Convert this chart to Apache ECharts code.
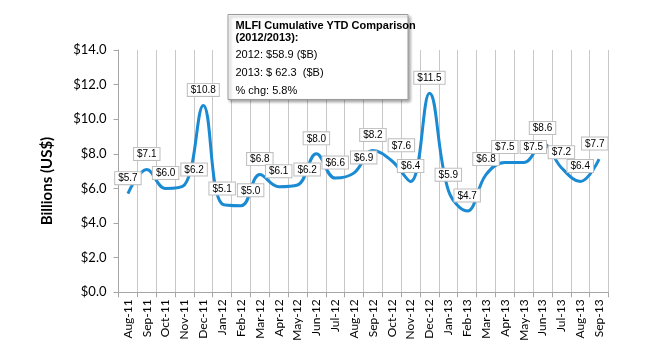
<!DOCTYPE html>
<html>
<head>
<meta charset="utf-8">
<script src="https://cdn.jsdelivr.net/npm/echarts@6/dist/echarts.min.js"></script>
<style>
html,body{margin:0;padding:0;background:#fff;}
#chart{width:650px;height:350px;}
</style>
</head>
<body>
<div id="chart"></div>
<script>
var categories = ['Aug-11','Sep-11','Oct-11','Nov-11','Dec-11','Jan-12','Feb-12','Mar-12','Apr-12','May-12','Jun-12','Jul-12','Aug-12','Sep-12','Oct-12','Nov-12','Dec-12','Jan-13','Feb-13','Mar-13','Apr-13','May-13','Jun-13','Jul-13','Aug-13','Sep-13'];
var values = [5.7,7.1,6.0,6.2,10.8,5.1,5.0,6.8,6.1,6.2,8.0,6.6,6.9,8.2,7.6,6.4,11.5,5.9,4.7,6.8,7.5,7.5,8.6,7.2,6.4,7.7];
var yTicks = {min:0, max:14, interval:2};
var noteLines = ['2012: $58.9 ($B)', '2013: $ 62.3  ($B)', '% chg: 5.8%'];
var noteTitle = ['MLFI Cumulative YTD Comparison', '(2012/2013):'];
var yTitle = 'Billions (US$)';

var chart = echarts.init(document.getElementById('chart'), null, {renderer:'canvas'});
var calib = 'Lato, "Liberation Sans", sans-serif';
var arial = '"Liberation Sans", Arial, sans-serif';
var gridRight = 41.5;
var lastRect = null;
function layoutLabel(p) {
  var r = p.labelRect;
  if (p.dataIndex === 0) lastRect = null;
  var x = r.x;
  if (lastRect) {
    var vOverlap = Math.min(r.y + r.height, lastRect.y + lastRect.height) - Math.max(r.y, lastRect.y);
    if (vOverlap > 2 && x < lastRect.x + lastRect.width + 1) {
      x = lastRect.x + lastRect.width + 1;
    }
  }
  var maxRight = 650 - gridRight;
  if (x + r.width > maxRight) x = maxRight - r.width;
  lastRect = {x:x, y:r.y, width:r.width, height:r.height};
  return {dx: x - r.x};
}
chart.setOption({
  animation:false,
  grid:{left:118.5, right:gridRight, top:50, bottom:57.7},
  xAxis:{
    type:'category', data:categories, boundaryGap:true,
    axisLine:{lineStyle:{color:'#a6a6a6'}},
    axisTick:{show:true, interval:0, length:5, lineStyle:{color:'#a6a6a6'}},
    splitLine:{show:true, interval:0, lineStyle:{color:'#c8c8c8', width:1}},
    axisLabel:{rotate:90, interval:0, fontFamily:calib, fontSize:12, color:'#000', margin:7}
  },
  yAxis:{
    type:'value', min:yTicks.min, max:yTicks.max, interval:yTicks.interval,
    axisLine:{show:true, lineStyle:{color:'#a6a6a6'}},
    axisTick:{show:true, length:5, lineStyle:{color:'#a6a6a6'}},
    splitLine:{show:false},
    axisLabel:{fontFamily:calib, fontSize:13, color:'#000', margin:12,
      formatter:function(v){return '$'+v.toFixed(1);}}
  },
  series:[{
    type:'line', data:values, smooth:0.4, showSymbol:true, symbol:'circle', symbolSize:1,
    itemStyle:{color:'rgba(0,0,0,0)'},
    lineStyle:{color:'#1a8ad3', width:3},
    labelLayout:layoutLabel,
    label:{show:true, position:'top', distance:9,
      formatter:function(p){return '$'+p.value.toFixed(1);},
      fontFamily:arial, fontSize:10, lineHeight:11, color:'#000',
      backgroundColor:'#fff', borderColor:'#bdbdbd', borderWidth:1, padding:[1,3,0,3]}
  }],
  graphic:[
    {type:'text', x:47, y:181, rotation:Math.PI/2,
      style:{text:yTitle, font:'bold 15px Lato, sans-serif', fill:'#000', align:'center', verticalAlign:'middle'}},
    {type:'rect', shape:{x:228, y:14.5, width:180, height:85},
      style:{fill:'#fff', stroke:'#9a9a9a', lineWidth:1, shadowBlur:3, shadowOffsetX:2, shadowOffsetY:2, shadowColor:'rgba(0,0,0,0.35)'}, z:100},
    {type:'text', x:235.5, y:25.7, z:101, style:{text:noteTitle[0], font:'bold 11px '+arial, fill:'#000', verticalAlign:'middle'}},
    {type:'text', x:235.5, y:37.7, z:101, style:{text:noteTitle[1], font:'bold 11px '+arial, fill:'#000', verticalAlign:'middle'}},
    {type:'text', x:235.5, y:55, z:101, style:{text:noteLines[0], font:'11px '+arial, fill:'#000', verticalAlign:'middle'}},
    {type:'text', x:235.5, y:73.3, z:101, style:{text:noteLines[1], font:'11px '+arial, fill:'#000', verticalAlign:'middle'}},
    {type:'text', x:235.5, y:90.7, z:101, style:{text:noteLines[2], font:'11px '+arial, fill:'#000', verticalAlign:'middle'}}
  ]
});
</script>
</body>
</html>
